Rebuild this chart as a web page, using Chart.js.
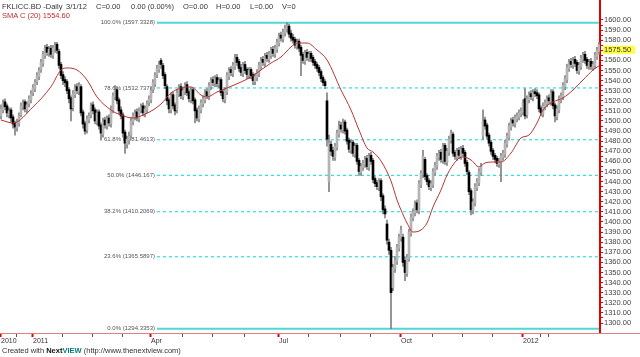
<!DOCTYPE html>
<html>
<head>
<meta charset="utf-8">
<script src="https://cdn.jsdelivr.net/npm/chart.js@4.4.1/dist/chart.umd.min.js"></script>
<style>
body { margin: 0; background: #fff; }
#wrap { position: relative; width: 640px; height: 357px; font-family: "Liberation Sans", Arial, sans-serif; }
#chart { position: absolute; left: 0; top: 0; }
#wrap span.t { position: absolute; font-size: 7.5px; line-height: 9px; color: #333; white-space: nowrap; }
#wrap span.sma { color: #c03030; }
.nv1 { color: #111; font-weight: bold; }
.nv2 { color: #008080; font-weight: bold; }
</style>
</head>
<body>
<div id="wrap">
<canvas id="chart" width="640" height="357"></canvas>
<span class="t" style="left:2px;top:2px">FKLICC.BD -Daily</span>
<span class="t" style="left:66px;top:2px">3/1/12</span>
<span class="t" style="left:96px;top:2px">C=0.00</span>
<span class="t" style="left:131px;top:2px">0.00 (0.00%)</span>
<span class="t" style="left:183px;top:2px">O=0.00</span>
<span class="t" style="left:216px;top:2px">H=0.00</span>
<span class="t" style="left:250px;top:2px">L=0.00</span>
<span class="t" style="left:282px;top:2px">V=0</span>
<span class="t sma" style="left:2px;top:11px">SMA C (20) 1554.60</span>
<span class="t" style="left:2px;top:346px">Created with <span class="nv1">Next</span><span class="nv2">VIEW</span> (http://www.thenextview.com)</span>
</div>
<script>
// daily bars, oldest first
const opens = [
  1505,1511,1519,1515,1506,1511,1504,1498,1493,1498,
  1506,1514,1519,1511,1517,1521,1528,1532,1539,1544,
  1551,1557,1565,1573,1567,1572,1565,1571,1576,1569,
  1556,1546,1541,1539,1531,1523,1513,1526,1534,1529,
  1534,1509,1498,1491,1501,1506,1516,1511,1499,1509,
  1496,1487,1501,1495,1503,1497,1511,1524,1531,1521,
  1511,1506,1489,1477,1481,1486,1499,1504,1509,1502,
  1511,1515,1507,1511,1518,1521,1531,1537,1546,1551,
  1560,1555,1546,1534,1521,1511,1526,1516,1511,1527,
  1534,1524,1529,1536,1529,1521,1531,1521,1511,1502,
  1511,1517,1521,1529,1524,1534,1541,1537,1543,1536,
  1541,1529,1521,1529,1544,1551,1547,1554,1563,1559,
  1553,1547,1556,1551,1545,1551,1546,1539,1543,1547,
  1554,1561,1557,1565,1561,1565,1571,1566,1571,1577,
  1585,1581,1587,1591,1594,1587,1583,1581,1574,1579,
  1573,1566,1559,1568,1562,1567,1563,1559,1556,1553,
  1549,1543,1539,1520,1440,1477,1471,1464,1474,1487,
  1496,1491,1499,1491,1481,1471,1479,1467,1476,1461,
  1449,1454,1457,1463,1454,1466,1461,1443,1439,1434,
  1441,1426,1413,1398,1380,1372,1335,1354,1361,1374,
  1384,1385,1362,1349,1364,1389,1404,1409,1419,1411,
  1437,1447,1462,1446,1441,1434,1437,1449,1455,1464,
  1469,1461,1476,1459,1469,1481,1487,1469,1464,1471,
  1465,1473,1469,1459,1449,1431,1411,1419,1434,1439,
  1449,1485,1501,1496,1486,1479,1471,1466,1463,1457,
  1459,1464,1467,1477,1484,1494,1501,1497,1502,1504,
  1507,1509,1522,1506,1521,1527,1523,1529,1528,1526,
  1513,1507,1514,1517,1523,1519,1529,1516,1504,1511,
  1521,1524,1534,1541,1552,1559,1555,1561,1558,1549,
  1554,1561,1566,1561,1554,1559,1553,1555,1564,1569
];
const highs = [
  1516,1521,1522,1517,1513,1513,1506,1500,1502,1508,
  1518,1521,1521,1519,1525,1530,1536,1541,1548,1553,
  1561,1569,1575,1576,1574,1575,1575,1578,1578,1571,
  1558,1549,1544,1541,1533,1525,1530,1536,1537,1538,
  1536,1511,1500,1505,1508,1518,1519,1513,1511,1511,
  1498,1503,1504,1505,1506,1515,1528,1535,1533,1523,
  1514,1508,1491,1485,1489,1503,1508,1511,1512,1513,
  1517,1518,1515,1520,1525,1533,1541,1548,1555,1559,
  1562,1557,1548,1536,1523,1528,1529,1518,1531,1536,
  1537,1533,1538,1539,1531,1533,1533,1523,1513,1515,
  1521,1525,1531,1532,1538,1543,1544,1545,1546,1543,
  1543,1531,1533,1548,1553,1554,1558,1566,1566,1561,
  1556,1558,1559,1553,1553,1553,1548,1547,1551,1558,
  1563,1564,1567,1568,1569,1573,1574,1575,1581,1587,
  1588,1591,1595,1597.3328,1596,1590,1586,1583,1581,1581,
  1575,1568,1570,1571,1569,1569,1565,1561,1558,1555,
  1551,1545,1541,1528,1486,1480,1474,1478,1491,1500,
  1499,1502,1501,1493,1483,1481,1481,1478,1478,1463,
  1458,1461,1465,1466,1468,1469,1463,1445,1441,1443,
  1443,1428,1416,1402,1383,1375,1358,1366,1378,1388,
  1396,1388,1365,1368,1393,1408,1413,1421,1422,1441,
  1451,1471,1464,1448,1443,1441,1453,1459,1468,1471,
  1472,1478,1478,1473,1485,1491,1489,1471,1473,1474,
  1475,1476,1471,1461,1451,1433,1423,1438,1443,1453,
  1458,1511,1504,1498,1488,1481,1473,1468,1465,1463,
  1468,1471,1481,1488,1498,1503,1504,1506,1508,1511,
  1513,1521,1532,1525,1529,1530,1531,1532,1531,1528,
  1515,1518,1521,1525,1526,1531,1531,1518,1515,1525,
  1528,1538,1545,1556,1561,1562,1563,1564,1560,1558,
  1565,1568,1569,1563,1561,1562,1559,1568,1573,1578
];
const lows = [
  1502,1508,1511,1504,1503,1499,1493,1486,1490,1495,
  1504,1511,1509,1508,1514,1518,1525,1529,1536,1541,
  1548,1554,1562,1565,1564,1563,1562,1568,1567,1552,
  1542,1536,1534,1527,1518,1500,1510,1523,1527,1526,
  1505,1493,1487,1488,1498,1503,1507,1497,1496,1492,
  1481,1484,1493,1492,1495,1494,1508,1521,1517,1507,
  1502,1484,1468,1473,1477,1483,1496,1501,1500,1499,
  1508,1505,1504,1508,1515,1518,1528,1534,1543,1548,
  1552,1542,1532,1516,1508,1508,1512,1506,1508,1524,
  1522,1521,1526,1525,1519,1518,1517,1498,1500,1499,
  1508,1514,1518,1522,1521,1531,1535,1534,1534,1533,
  1525,1519,1518,1526,1541,1545,1544,1551,1555,1549,
  1545,1544,1547,1542,1542,1542,1536,1536,1540,1544,
  1551,1555,1554,1559,1558,1562,1564,1563,1568,1574,
  1579,1578,1584,1588,1583,1579,1577,1572,1571,1569,
  1545,1557,1556,1560,1559,1559,1555,1552,1549,1545,
  1539,1535,1532,1475,1430,1466,1461,1461,1471,1484,
  1489,1488,1487,1477,1469,1468,1465,1464,1457,1446,
  1446,1451,1454,1452,1451,1457,1439,1435,1432,1431,
  1421,1408,1404,1378,1368,1294.3353,1332,1350,1358,1371,
  1381,1356,1342,1346,1361,1386,1401,1406,1409,1408,
  1434,1444,1442,1437,1432,1431,1434,1446,1452,1461,
  1459,1458,1457,1456,1466,1478,1465,1462,1461,1463,
  1462,1465,1455,1447,1427,1407,1408,1416,1431,1436,
  1446,1482,1492,1482,1475,1467,1462,1459,1455,1454,
  1440,1461,1464,1474,1481,1491,1495,1494,1499,1501,
  1504,1506,1502,1503,1518,1521,1520,1524,1522,1509,
  1505,1504,1511,1514,1517,1516,1512,1499,1501,1508,
  1518,1521,1531,1538,1549,1553,1552,1554,1547,1546,
  1551,1558,1557,1552,1551,1551,1550,1552,1561,1566
];
const closes = [
  1512,1518,1514,1508,1510,1503,1497,1494,1499,1505,
  1515,1518,1512,1516,1522,1527,1533,1538,1545,1550,
  1558,1566,1572,1568,1571,1566,1572,1575,1570,1555,
  1545,1540,1538,1530,1522,1512,1527,1533,1530,1535,
  1508,1497,1490,1502,1505,1515,1510,1500,1508,1495,
  1488,1500,1496,1502,1498,1512,1525,1530,1520,1510,
  1505,1488,1478,1482,1485,1500,1505,1508,1503,1510,
  1514,1508,1512,1517,1522,1530,1538,1545,1552,1556,
  1556,1545,1535,1520,1512,1525,1515,1510,1528,1533,
  1525,1530,1535,1528,1522,1530,1520,1510,1503,1512,
  1518,1522,1528,1525,1535,1540,1538,1542,1537,1540,
  1528,1522,1530,1545,1550,1548,1555,1562,1558,1552,
  1548,1555,1550,1546,1550,1545,1540,1544,1548,1555,
  1560,1558,1564,1562,1566,1570,1567,1572,1578,1584,
  1582,1588,1592,1595,1586,1582,1580,1575,1578,1572,
  1565,1560,1567,1563,1566,1562,1558,1555,1552,1548,
  1542,1538,1535,1482,1478,1470,1465,1475,1488,1495,
  1492,1498,1490,1480,1472,1478,1468,1475,1460,1450,
  1455,1458,1462,1455,1465,1460,1442,1438,1435,1440,
  1425,1412,1408,1382,1372,1330,1355,1362,1375,1385,
  1392,1360,1350,1365,1390,1405,1410,1418,1412,1438,
  1448,1465,1445,1440,1435,1438,1450,1456,1465,1468,
  1462,1475,1460,1470,1482,1488,1468,1465,1470,1466,
  1472,1468,1458,1450,1430,1412,1420,1435,1440,1450,
  1455,1500,1495,1485,1478,1470,1465,1462,1458,1460,
  1465,1468,1478,1485,1495,1500,1498,1503,1505,1508,
  1510,1518,1505,1522,1526,1524,1528,1527,1525,1512,
  1508,1515,1518,1522,1520,1528,1515,1505,1512,1522,
  1525,1535,1542,1553,1558,1556,1560,1557,1550,1555,
  1562,1565,1560,1555,1558,1554,1556,1565,1570,1575.5
];

// SMA(20): bar index -> value
const smaIndex = [0,6,16,25,30,33,38,43,48,55,60,66,71,76,80,85,90,95,100,103,
  108,113,120,125,130,135,140,145,148,153,158,163,170,175,179,183,186,190,195,198,
  200,203,206,210,213,216,220,223,228,231,235,239,242,246,250,255,260,264,268,271,
  276,281,286,291,296,299];
const smaValue = [1501,1498,1514,1534,1550.5,1552.5,1550.5,1540.6,1523.8,1510.9,
  1505.9,1503,1505.9,1510.9,1516.8,1527.7,1532.7,1533.7,1525.7,1523.8,
  1528.7,1532.7,1538.6,1543.6,1550.5,1557.4,1563.4,1573.3,1577.2,1577.2,
  1570.3,1560.4,1530.7,1510.9,1491.1,1473.3,1469.3,1460.4,1440.6,1421.8,
  1411.9,1399,1390.1,1392.1,1399,1414.9,1431.7,1446.5,1461.4,1464.4,
  1461.4,1454.5,1458.4,1459.4,1459.4,1468.3,1483.2,1486.1,1498,1510.9,
  1518.8,1522.8,1530.7,1540.6,1550.5,1554.6];

// fibonacci retracement
const fibLevels = [1597.3328, 1532.7378, 1481.4613, 1446.167, 1410.2069, 1365.5897, 1294.3353];
const fibLabels = ['100.0% (1597.3328)', '78.6% (1532.7378)', '61.8% (1481.4613)', '50.0% (1446.167)',
  '38.2% (1410.2069)', '23.6% (1365.5897)', '0.0% (1294.3353)'];
const fibSolid = [true, false, false, false, false, false, true];
const fibStart = 78;

// x axis
const xTickIndex = [0, 16, 75, 139, 200, 261];
const xTickLabels = ['2010', '2011', 'Apr', 'Jul', 'Oct', '2012'];
const xMinorIndex = [8, 31, 46, 61, 91, 106, 122, 154, 170, 185, 216, 231, 246, 270, 274];

// y axis
const yMin = 1290.1, yMax = 1619.8;
const yTickValues = [];
for (let v = 1300; v <= 1600; v += 5) yTickValues.push(v);

const labels = closes.map((c, i) => i);
const last = closes[closes.length - 1];

const smaData = labels.map(() => null);
smaIndex.forEach((ix, k) => { smaData[ix] = smaValue[k]; });

const fibDatasets = fibLevels.map((lv, k) => {
  const d = labels.map(() => null);
  d[fibStart] = lv;
  d[labels.length - 1] = lv;
  return {
    type: 'line',
    data: d,
    spanGaps: true,
    borderColor: fibSolid[k] ? '#52d6d6' : '#2fe0e0',
    borderWidth: fibSolid[k] ? 2 : 1.2,
    borderDash: fibSolid[k] ? [] : [3, 3],
    pointRadius: 0,
    order: 5
  };
});

function noPad(s) {
  s.paddingTop = 0;
  s.paddingBottom = 0;
  s.paddingLeft = 0;
  s.paddingRight = 0;
}

const overlay = {
  id: 'overlay',
  beforeDatasetsDraw(chart) {
    const { ctx, scales: { x, y } } = chart;
    ctx.save();
    ctx.font = '6px "Liberation Sans"';
    ctx.fillStyle = '#555';
    ctx.textAlign = 'right';
    ctx.textBaseline = 'middle';
    const lx = x.getPixelForValue(fibStart) - 2;
    fibLevels.forEach((lv, k) => ctx.fillText(fibLabels[k], lx, y.getPixelForValue(lv)));
    ctx.restore();
  },
  afterDraw(chart) {
    const { ctx, chartArea, scales: { y } } = chart;
    ctx.save();
    ctx.strokeStyle = '#e08080';
    ctx.lineWidth = 1;
    ctx.beginPath();
    ctx.moveTo(0, chartArea.bottom + 0.5);
    ctx.lineTo(chart.width, chartArea.bottom + 0.5);
    ctx.stroke();
    // last price tag
    const py = y.getPixelForValue(last);
    ctx.fillStyle = '#ffff40';
    ctx.fillRect(chartArea.right + 3, py + 1, 32, 8);
    ctx.fillStyle = '#333';
    ctx.font = '7.5px "Liberation Sans"';
    ctx.textAlign = 'left';
    ctx.textBaseline = 'middle';
    ctx.fillText(last.toFixed(2), chartArea.right + 4, py + 5.5);
    ctx.restore();
  }
};

new Chart(document.getElementById('chart'), {
  type: 'bar',
  data: {
    labels: labels,
    datasets: [
      {
        type: 'line',
        data: smaData,
        spanGaps: true,
        borderColor: '#b83434',
        borderWidth: 1,
        pointRadius: 0,
        cubicInterpolationMode: 'monotone',
        order: 1
      },
      {
        data: opens.map((o, i) => [o, closes[i]]),
        backgroundColor: ctx => closes[ctx.dataIndex] < opens[ctx.dataIndex] ? '#000000' : '#b4b4b4',
        barThickness: 2,
        minBarLength: 1,
        grouped: false,
        order: 2
      },
      {
        data: lows.map((l, i) => [l, highs[i]]),
        backgroundColor: '#808080',
        barThickness: 1,
        grouped: false,
        order: 3
      },
      ...fibDatasets
    ]
  },
  options: {
    responsive: false,
    animation: false,
    events: [],
    layout: { padding: 0 },
    plugins: { legend: { display: false }, tooltip: { enabled: false } },
    scales: {
      x: {
        offset: true,
        afterFit: s => { s.height = 24; noPad(s); },
        border: { display: false },
        grid: {
          drawOnChartArea: false,
          tickLength: 4,
          tickColor: c => xTickIndex.includes(c.index) ? '#e00000' : (xMinorIndex.includes(c.index) ? '#555' : 'rgba(0,0,0,0)'),
          tickWidth: c => xTickIndex.includes(c.index) ? 2 : 1
        },
        ticks: {
          autoSkip: false,
          maxRotation: 0,
          minRotation: 0,
          align: 'start',
          padding: 0,
          color: '#333',
          font: { family: 'Liberation Sans', size: 7 },
          callback: (v, i) => {
            const k = xTickIndex.indexOf(i);
            return k >= 0 ? xTickLabels[k] : '';
          }
        }
      },
      y: {
        position: 'right',
        min: yMin,
        max: yMax,
        afterFit: s => { s.width = 40; noPad(s); },
        afterBuildTicks: s => { s.ticks = yTickValues.map(v => ({ value: v })); },
        border: { color: '#e00000', width: 2 },
        grid: { drawOnChartArea: false, tickLength: 3, tickColor: '#e00000' },
        ticks: {
          autoSkip: false,
          padding: 1,
          color: '#444',
          font: { family: 'Liberation Sans', size: 7.5 },
          callback: v => v % 10 === 0 ? v.toFixed(2) : ''
        }
      }
    }
  },
  plugins: [overlay]
});
</script>
</body>
</html>
